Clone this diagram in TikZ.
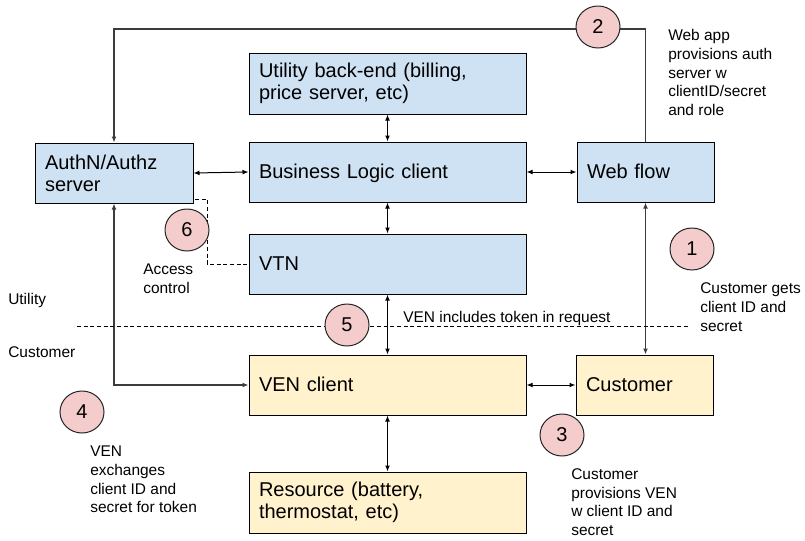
\documentclass[tikz,border=0pt]{standalone}
\usepackage{fontspec}
\setmainfont{Liberation Sans}
\usetikzlibrary{arrows.meta,shapes.geometric}
\definecolor{boxblue}{HTML}{CFE2F3}
\definecolor{boxyellow}{HTML}{FFF2CC}
\definecolor{circpink}{HTML}{F4CCCC}
\definecolor{linegray}{HTML}{3C3C3C}
\newcommand\bxfont{\fontsize{15}{16.5}\selectfont}
\newcommand\smfont{\fontsize{11.6}{14}\selectfont}
\begin{document}
\begin{tikzpicture}[x=0.75pt,y=-0.75pt,
  box/.style={draw=black, line width=0.75pt, inner xsep=7.5pt, inner ysep=0pt,
    minimum height=45pt, align=left, font=\bxfont},
  single/.style={text height=12pt, text depth=2.7pt},
  wide/.style={box, text width=192.75pt},
  narrow/.style={box, text width=87.75pt},
  authbox/.style={box, text width=103.5pt},
  blue/.style={fill=boxblue},
  yellow/.style={fill=boxyellow},
  num/.style={ellipse, draw=black!85, line width=0.75pt, fill=circpink,
    minimum width=33pt, minimum height=31.5pt, inner sep=0pt, font=\bxfont},
  lbl/.style={font=\smfont, align=left, inner sep=0pt},
  tips/.style={{Latex[length=4.5pt,width=3.6pt]}-{Latex[length=4.5pt,width=3.6pt]}},
  endtip/.style={-{Latex[length=4.5pt,width=3.6pt]}},
  conn/.style={black, line width=0.75pt},
  gline/.style={linegray, line width=0.9pt},
  dline/.style={black, line width=0.75pt, dash pattern=on 3pt off 2pt}
]
\useasboundingbox (0,0) rectangle (805,540);

% boxes
\node[wide, blue, minimum height=45.75pt] (ube) at (387.5,83.5) {Utility back-end (billing,\\price server, etc)};
\node[authbox, blue] (auth) at (114,173) {AuthN/Authz\\server};
\node[wide, blue, single] (blc) at (387.5,172) {Business Logic client};
\node[narrow, blue, single] (web) at (645.5,172) {Web flow};
\node[wide, blue, single] (vtn) at (387.5,264) {VTN};
\node[wide, yellow, single] (ven) at (387.5,385) {VEN client};
\node[narrow, yellow, single] (cust) at (644.5,385) {Customer};
\node[wide, yellow, minimum height=45.75pt] (res) at (387.5,502.5) {Resource (battery,\\thermostat, etc)};

% connectors between boxes
\draw[conn, tips] (ube.south) -- (blc.north);
\draw[conn, tips] (auth.east) -- (blc.west);
\draw[conn, tips] (blc.east) -- (web.west);
\draw[conn, tips] (blc.south) -- (vtn.north);
\draw[conn, tips] (vtn.south) -- (ven.north);
\draw[conn, tips] (ven.east) -- (cust.west);
\draw[conn, tips] (ven.south) -- (res.north);

% long gray lines
\draw[gline, endtip] (web.north) -- (web.north |- 0,29) -| (auth.north);
\draw[gline, tips] (ven.west) -| (auth.south);
\draw[gline, tips] (web.south) -- (web.south |- cust.north);

% dashed lines
\coordinate (d1) at (195,199);
\coordinate (d2) at (207,199);
\draw[dline] (d1) -- (d2) |- (vtn.west);
\coordinate (h1) at (77,326);
\coordinate (h2) at (690,326);
\draw[dline] (h1) -- (h2);

% numbered circles
\node[num] (c2) at (598,27) {2};
\node[num] (c6) at (187,230) {6};
\node[num] (c1) at (692,249) {1};
\node[num] (c5) at (347,325) {5};
\node[num] (c4) at (82,412) {4};
\node[num] (c3) at (562,435) {3};

% labels
\node[lbl, anchor=west] (tweb) at (668,72.6) {Web app\\provisions auth\\server w\\clientID/secret\\and role};
\node[lbl, anchor=west] (tcg) at (700,307) {Customer gets\\client ID and\\secret};
\node[lbl, anchor=west] (tvi) at (403,318) {VEN includes token in request};
\node[lbl, anchor=west] (tac) at (143,278.5) {Access\\control};
\node[lbl, anchor=west] (tut) at (8,300) {Utility};
\node[lbl, anchor=west] (tcu) at (8,352) {Customer};
\node[lbl, anchor=west] (tve) at (90,479.5) {VEN\\exchanges\\client ID and\\secret for token};
\node[lbl, anchor=west] (tcp) at (571,502) {Customer\\provisions VEN\\w client ID and\\secret};
\end{tikzpicture}
\end{document}
